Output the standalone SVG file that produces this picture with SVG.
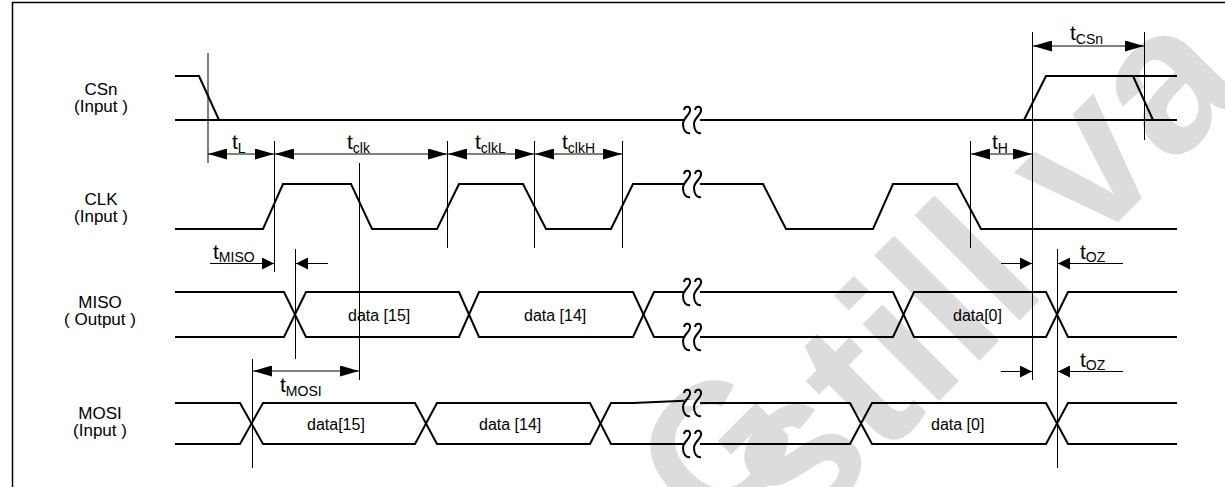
<svg xmlns="http://www.w3.org/2000/svg" width="1225" height="487" viewBox="0 0 1225 487">
<style>
.sig{fill:none;stroke:#000;stroke-width:2;stroke-linejoin:miter}
.ref{fill:none;stroke:#000;stroke-width:1}
.dim{fill:none;stroke:#000;stroke-width:1}
.lbl{font-family:"Liberation Sans",Arial,sans-serif;font-size:17px;fill:#000;text-anchor:middle}
.dat{font-family:"Liberation Sans",Arial,sans-serif;font-size:16px;fill:#000}
.t{font-family:"Liberation Sans",Arial,sans-serif;font-size:21px;fill:#000}
.sub{font-size:14px}
.brk{fill:none;stroke:#000;stroke-width:2}
.wm{font-family:"Liberation Sans",Arial,sans-serif;font-weight:bold;font-size:180px;fill:#dcdcdc}
</style>
<defs>
<marker id="ah" viewBox="0 0 19 11" refX="19" refY="5.5" markerWidth="19" markerHeight="11" markerUnits="userSpaceOnUse" orient="auto-start-reverse">
<path d="M0,0 L19,5.5 L0,11 z" fill="#000"/>
</marker>
<marker id="as" viewBox="0 0 12 12" refX="12" refY="6" markerWidth="12" markerHeight="12" markerUnits="userSpaceOnUse" orient="auto-start-reverse">
<path d="M0,0 L12,6 L0,12 z" fill="#000"/>
</marker>
<g id="brk">
<rect x="-8" y="-3" width="16" height="6" fill="#fff"/>
<path class="brk" d="M-8,-10 C-7,-15 -1,-14 -2,-9 C-3,-4 -9,-2 -9,4 C-9,10 -6,14 -2,13"/>
<path class="brk" d="M3,-10 C4,-15 10,-14 9,-9 C8,-4 2,-2 2,4 C2,10 5,14 9,13"/>
</g>
</defs>
<rect width="1225" height="487" fill="#fff"/>
<g id="watermark">
<text class="wm" transform="translate(810,441) rotate(-45)" text-anchor="end">AG</text>
<text class="wm" style="font-size:205px" transform="translate(800,540) rotate(-45)">still va</text>
</g>
<path id="frame" d="M12.5,487 V2.5 H1225" fill="none" stroke="#000" stroke-width="1.5"/>

<g id="labels">
<g id="lbl-csn"><text class="lbl" x="101" y="95">CSn</text><text class="lbl" x="101" y="112">(Input )</text></g>
<g id="lbl-clk"><text class="lbl" x="101" y="205">CLK</text><text class="lbl" x="101" y="222">(Input )</text></g>
<g id="lbl-miso"><text class="lbl" x="100" y="308">MISO</text><text class="lbl" x="100" y="325">( Output )</text></g>
<g id="lbl-mosi"><text class="lbl" x="100" y="419">MOSI</text><text class="lbl" x="100" y="436">(Input )</text></g>
</g>

<g id="signals">
<g id="csn">
<path class="sig" d="M175,76 H199 L219,120"/>
<path class="sig" d="M175,120 H1177"/>
<path class="sig" d="M1024,120 L1046,76 H1177 M1133,76 L1153,120"/>
<use href="#brk" x="692" y="120"/>
</g>
<g id="clk">
<path class="sig" d="M175,229 H263 L283,184 H351 L372,229 H437 L459,184 H523 L546,229 H611 L633,184 H763 L786,229 H873 L893,184 H957 L981,229 H1177"/>
<use href="#brk" x="692" y="184"/>
</g>
<g id="miso">
<path class="sig" d="M175,292 H284 L306,337 H459 L479,292 H633 L654,337 H893 L914,292 H1046 L1068,337 H1177"/>
<path class="sig" d="M175,337 H284 L306,292 H459 L479,337 H633 L654,292 H893 L914,337 H1046 L1068,292 H1177"/>
<use href="#brk" x="692" y="292"/>
<use href="#brk" x="692" y="337"/>
<text class="dat" x="348" y="321">data [15]</text>
<text class="dat" x="524" y="321">data [14]</text>
<text class="dat" x="953" y="321">data[0]</text>
</g>
<g id="mosi">
<path class="sig" d="M175,403 H240 L263,444 H415 L437,403 H590 L611,444 H850 L872,403 H1046 L1068,444 H1177"/>
<path class="sig" d="M175,444 H240 L263,403 H415 L437,444 H590 L611,403 H633 L690,400.5 M700,403 H850 L872,444 H1046 L1068,403 H1177"/>
<use href="#brk" x="692" y="403"/>
<use href="#brk" x="692" y="444"/>
<text class="dat" x="307" y="430">data[15]</text>
<text class="dat" x="479" y="430">data [14]</text>
<text class="dat" x="931" y="430">data [0]</text>
</g>
</g>

<g id="connectors">
<path class="ref" d="M208,53 V163 M274.5,141 V272 M359.5,163 V380 M447.5,141 V248 M534.5,141 V248 M622.5,141 V248 M970.5,141 V248 M1032.5,32 V380 M1144.5,32 V140 M295.5,249 V359 M252.5,359 V468 M1057.5,249 V468"/>
<line class="dim" x1="208" y1="154" x2="274" y2="154" marker-start="url(#ah)" marker-end="url(#ah)"/>
<line class="dim" x1="275" y1="154" x2="447" y2="154" marker-start="url(#ah)" marker-end="url(#ah)"/>
<line class="dim" x1="448" y1="154" x2="534" y2="154" marker-start="url(#ah)" marker-end="url(#ah)"/>
<line class="dim" x1="535" y1="154" x2="622" y2="154" marker-start="url(#ah)" marker-end="url(#ah)"/>
<line class="dim" x1="971" y1="154" x2="1032" y2="154" marker-start="url(#ah)" marker-end="url(#ah)"/>
<line class="dim" x1="1033" y1="46" x2="1144" y2="46" marker-start="url(#ah)" marker-end="url(#ah)"/>
<line class="dim" x1="253" y1="371" x2="359" y2="371" marker-start="url(#ah)" marker-end="url(#ah)"/>
<line class="dim" x1="210" y1="263.5" x2="274" y2="263.5" marker-end="url(#as)"/>
<line class="dim" x1="328" y1="263.5" x2="296" y2="263.5" marker-end="url(#as)"/>
<line class="dim" x1="1001" y1="263.5" x2="1032" y2="263.5" marker-end="url(#as)"/>
<line class="dim" x1="1123" y1="263.5" x2="1058" y2="263.5" marker-end="url(#as)"/>
<line class="dim" x1="1001" y1="371.5" x2="1032" y2="371.5" marker-end="url(#as)"/>
<line class="dim" x1="1123" y1="371.5" x2="1058" y2="371.5" marker-end="url(#as)"/>
</g>

<g id="timing-labels">
<text class="t" x="232" y="149">t<tspan class="sub" dy="4">L</tspan></text>
<text class="t" x="347" y="149">t<tspan class="sub" dy="4">clk</tspan></text>
<text class="t" x="475" y="149">t<tspan class="sub" dy="4">clkL</tspan></text>
<text class="t" x="562" y="149">t<tspan class="sub" dy="4">clkH</tspan></text>
<text class="t" x="992" y="149">t<tspan class="sub" dy="4">H</tspan></text>
<text class="t" x="1070" y="40">t<tspan class="sub" dy="4">CSn</tspan></text>
<text class="t" x="213" y="259">t<tspan class="sub" dy="3">MISO</tspan></text>
<text class="t" x="280" y="392">t<tspan class="sub" dy="4">MOSI</tspan></text>
<text class="t" x="1080" y="259">t<tspan class="sub" dy="3">OZ</tspan></text>
<text class="t" x="1080" y="367">t<tspan class="sub" dy="3">OZ</tspan></text>
</g>
</svg>
